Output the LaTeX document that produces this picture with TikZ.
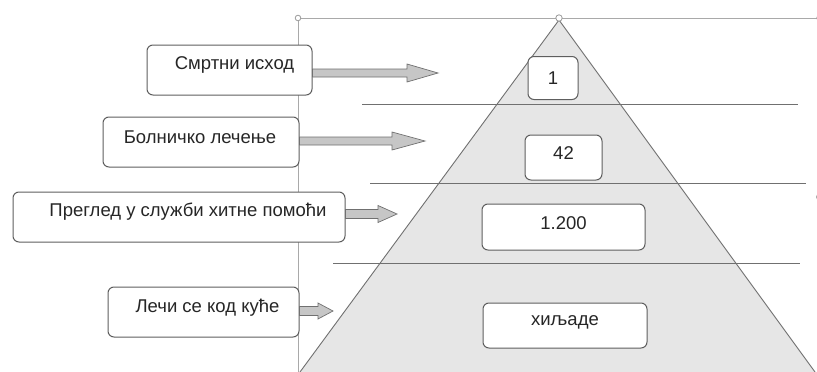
\documentclass[tikz,border=0pt]{standalone}
\usepackage{fontspec}
\setmainfont{Liberation Sans}
\usetikzlibrary{calc}
\definecolor{edge}{HTML}{707070}
\definecolor{boxedge}{HTML}{5E5E5E}
\definecolor{pyrfill}{HTML}{E6E6E6}
\definecolor{arrowfill}{HTML}{C6C6C6}
\definecolor{ink}{HTML}{262626}
\tikzset{
  guide/.style={draw=edge, line width=0.9pt},
  handle/.style={draw=edge!70, fill=white, line width=0.8pt},
  labelbox/.style={draw=boxedge, fill=white, rounded corners=6pt, line width=1pt, inner sep=0pt},
  caption/.style={text=ink, font=\fontsize{18.5}{21}\selectfont, inner sep=0pt},
  fatarrow/.style={draw=edge, fill=arrowfill, line width=0.7pt},
}
% block arrow from a box edge to a tip coordinate
\newcommand\blockarrow[5]{% start, tip, head length, shaft half, head half
  \path[fatarrow] ($(#1)+(0,-#4)$) -- ($(#2)+(-#3,-#4)$) -- ($(#2)+(-#3,-#5)$) -- (#2)
    -- ($(#2)+(-#3,#5)$) -- ($(#2)+(-#3,#4)$) -- ($(#1)+(0,#4)$) -- cycle;}
\begin{document}
\begin{tikzpicture}[x=1pt, y=-1pt]
\useasboundingbox (0,0) rectangle (817,372);
\clip (0,0) rectangle (817,372);
\fill[white] (0,0) rectangle (817,372);

% pyramid
\coordinate (apex) at (559,20);
\coordinate (baseL) at (300,372);
\coordinate (baseR) at (815,372);
\fill[pyrfill] (apex) -- (baseR) -- (baseL) -- cycle;
\draw[guide] (baseL) -- (apex) -- (baseR);

% frame lines and separators
\coordinate (frameTL) at (298,18);
\coordinate (frameTR) at (819,18);
\coordinate (frameBL) at (298,372);
\draw[guide, draw=edge!60] (frameTL) -- (frameTR);
\draw[guide, draw=edge!60] (frameTL) -- (frameBL);
\coordinate (s1a) at (362,104); \coordinate (s1b) at (798,104);
\coordinate (s2a) at (370,183); \coordinate (s2b) at (806,183);
\coordinate (s3a) at (333,263); \coordinate (s3b) at (800,263);
\draw[guide] (s1a) -- (s1b);
\draw[guide] (s2a) -- (s2b);
\draw[guide] (s3a) -- (s3b);

% selection handles
\draw[handle] (frameTL) circle (2.8);
\draw[handle] (559,18) circle (3.2);
\draw[handle] (820,18) circle (3.2);
\draw[handle] (820,197) circle (3.5);
\draw[handle] (560,376) circle (3.5);

% level values
\node[labelbox, minimum width=50, minimum height=43] (v1) at (553,78) {};
\node[caption] (v1t) at (v1.center) {1};
\node[labelbox, minimum width=77, minimum height=45] (v2) at (563.5,157.5) {};
\node[caption] (v2t) at ([yshift=4]v2.center) {42};
\node[labelbox, minimum width=163, minimum height=46] (v3) at (563.5,227) {};
\node[caption] (v3t) at ([yshift=4]v3.center) {1.200};
\node[labelbox, minimum width=164, minimum height=45] (v4) at (565,325.5) {};
\node[caption] (v4t) at ([yshift=3]v4.center) {хиљаде};

% outcome boxes
\node[labelbox, minimum width=165, minimum height=50] (b1) at (229.5,70) {};
\node[caption] (b1t) at ([xshift=5,yshift=5]b1.center) {Смртни исход};
\node[labelbox, minimum width=196, minimum height=50] (b2) at (201,142) {};
\node[caption] (b2t) at ([xshift=-1,yshift=5]b2.center) {Болничко лечење};
\node[labelbox, minimum width=332, minimum height=50] (b3) at (179,217) {};
\node[caption] (b3t) at ([xshift=9,yshift=5]b3.center) {Преглед у служби хитне помоћи};
\node[labelbox, minimum width=191, minimum height=50] (b4) at (203.5,312) {};
\node[caption] (b4t) at ([xshift=4,yshift=4]b4.center) {Лечи се код куће};

% arrows into the pyramid
\coordinate (tip1) at (438,73);
\coordinate (tip2) at (425,141);
\coordinate (tip3) at (397,214);
\coordinate (tip4) at (333,311);
\blockarrow{b1.east |- tip1}{tip1}{31}{4}{9}
\blockarrow{b2.east |- tip2}{tip2}{33}{4}{9}
\blockarrow{b3.east |- tip3}{tip3}{19}{4.5}{8.5}
\blockarrow{b4.east |- tip4}{tip4}{15}{4.5}{8}
\end{tikzpicture}
\end{document}
